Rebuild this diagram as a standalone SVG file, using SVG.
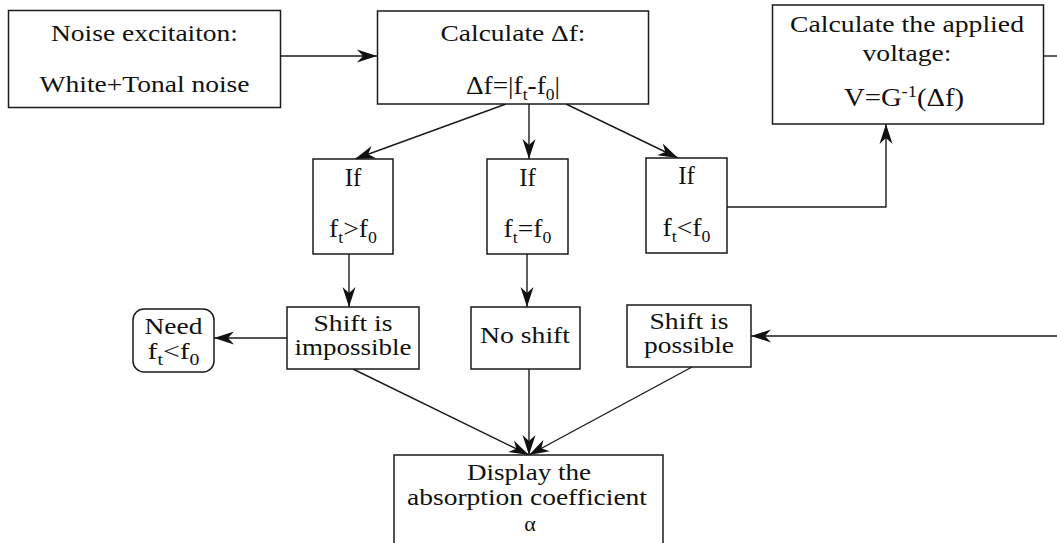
<svg xmlns="http://www.w3.org/2000/svg" width="1057" height="543" viewBox="0 0 1057 543">
<style>
  .box{fill:#fff;stroke:#1a1a1a;stroke-width:1.5}
  .t{font-family:'Liberation Serif','DejaVu Serif','Times New Roman',serif;font-size:24px;fill:#111;text-anchor:middle}
  .f{font-size:25px}
  .s{font-size:23px}
  .sub{font-size:16px}
  .ln{fill:none;stroke:#1a1a1a;stroke-width:1.4}
  .ar{marker-end:url(#ah)}
</style>
<defs>
  <marker id="ah" markerUnits="userSpaceOnUse" markerWidth="22" markerHeight="14" viewBox="-21 -7 22 14" refX="0" refY="0" orient="auto">
    <path d="M0,0 L-20,-6.5 L-14,0 L-20,6.5 Z" fill="#111"/>
  </marker>
</defs>
<rect width="1057" height="543" fill="#fff"/>

<g id="connectors">
  <line class="ln ar" x1="281" y1="56" x2="377" y2="56"/>
  <line class="ln ar" x1="506" y1="104" x2="355" y2="159"/>
  <line class="ln ar" x1="529" y1="104" x2="529" y2="159"/>
  <line class="ln ar" x1="566" y1="104" x2="678" y2="158"/>
  <polyline class="ln ar" points="727,207 886,207 886,124"/>
  <line class="ln" x1="1044" y1="56" x2="1057" y2="56"/>
  <line class="ln ar" x1="349" y1="254" x2="349" y2="307"/>
  <line class="ln ar" x1="527" y1="254" x2="527" y2="307"/>
  <line class="ln ar" x1="287" y1="338" x2="214" y2="338"/>
  <line class="ln ar" x1="1057" y1="336" x2="751" y2="336"/>
  <line class="ln ar" x1="353" y1="369" x2="529" y2="455"/>
  <line class="ln ar" x1="529" y1="369" x2="529" y2="455"/>
  <line class="ln ar" x1="692" y1="367" x2="529" y2="455"/>
</g>

<g id="noise">
  <rect class="box" x="8.5" y="10.5" width="272" height="97"/>
  <text class="t" x="144.5" y="41" textLength="187" lengthAdjust="spacingAndGlyphs">Noise excitaiton:</text>
  <text class="t" x="144.5" y="92" textLength="210" lengthAdjust="spacingAndGlyphs">White+Tonal noise</text>
</g>

<g id="calc-df">
  <rect class="box" x="377.5" y="11" width="271" height="93"/>
  <text class="t" x="513" y="41" textLength="145" lengthAdjust="spacingAndGlyphs">Calculate Δf:</text>
  <text class="t f" x="513" y="94" textLength="94" lengthAdjust="spacingAndGlyphs">Δf=|f<tspan class="sub" dy="6">t</tspan><tspan dy="-6">-f</tspan><tspan class="sub" dy="6">0</tspan><tspan dy="-6">|</tspan></text>
</g>

<g id="calc-v">
  <rect class="box" x="772.5" y="5" width="271" height="119"/>
  <text class="t" x="907" y="32" textLength="234" lengthAdjust="spacingAndGlyphs">Calculate the applied</text>
  <text class="t" x="907" y="61" textLength="89" lengthAdjust="spacingAndGlyphs">voltage:</text>
  <text class="t f" x="904" y="106" textLength="120" lengthAdjust="spacingAndGlyphs">V=G<tspan class="sub" dy="-9">-1</tspan><tspan dy="9">(Δf)</tspan></text>
</g>

<g id="if-gt">
  <rect class="box" x="313" y="159" width="80" height="95"/>
  <text class="t f" x="353" y="186">If</text>
  <text class="t f" x="353" y="237" textLength="48" lengthAdjust="spacingAndGlyphs">f<tspan class="sub" dy="6">t</tspan><tspan dy="-6">&gt;f</tspan><tspan class="sub" dy="6">0</tspan></text>
</g>

<g id="if-eq">
  <rect class="box" x="487" y="159" width="81" height="95"/>
  <text class="t f" x="527.5" y="186">If</text>
  <text class="t f" x="527.5" y="237" textLength="48" lengthAdjust="spacingAndGlyphs">f<tspan class="sub" dy="6">t</tspan><tspan dy="-6">=f</tspan><tspan class="sub" dy="6">0</tspan></text>
</g>

<g id="if-lt">
  <rect class="box" x="646" y="158" width="81" height="95"/>
  <text class="t f" x="686.5" y="184">If</text>
  <text class="t f" x="686.5" y="236" textLength="48" lengthAdjust="spacingAndGlyphs">f<tspan class="sub" dy="6">t</tspan><tspan dy="-6">&lt;f</tspan><tspan class="sub" dy="6">0</tspan></text>
</g>

<g id="need">
  <rect class="box" x="133" y="309" width="81" height="63" rx="11"/>
  <text class="t" x="173.5" y="334" textLength="58" lengthAdjust="spacingAndGlyphs">Need</text>
  <text class="t" x="173.5" y="359" textLength="52" lengthAdjust="spacingAndGlyphs">f<tspan class="sub" dy="6">t</tspan><tspan dy="-6">&lt;f</tspan><tspan class="sub" dy="6">0</tspan></text>
</g>

<g id="shift-impossible">
  <rect class="box" x="287" y="307" width="132" height="62"/>
  <text class="t" x="353" y="331" textLength="79" lengthAdjust="spacingAndGlyphs">Shift is</text>
  <text class="t" x="353" y="355" textLength="117" lengthAdjust="spacingAndGlyphs">impossible</text>
</g>

<g id="no-shift">
  <rect class="box" x="471" y="307" width="109" height="62"/>
  <text class="t" x="525" y="343" textLength="90" lengthAdjust="spacingAndGlyphs">No shift</text>
</g>

<g id="shift-possible">
  <rect class="box" x="627" y="305" width="124" height="62"/>
  <text class="t" x="689" y="329" textLength="79" lengthAdjust="spacingAndGlyphs">Shift is</text>
  <text class="t" x="689" y="353" textLength="90" lengthAdjust="spacingAndGlyphs">possible</text>
</g>

<g id="display">
  <rect class="box" x="394" y="455" width="269" height="95"/>
  <text class="t s" x="529" y="480" textLength="124" lengthAdjust="spacingAndGlyphs">Display the</text>
  <text class="t s" x="527" y="505" textLength="240" lengthAdjust="spacingAndGlyphs">absorption coefficient</text>
  <text class="t" x="530" y="531" style="font-size:22px">α</text>
</g>
</svg>
